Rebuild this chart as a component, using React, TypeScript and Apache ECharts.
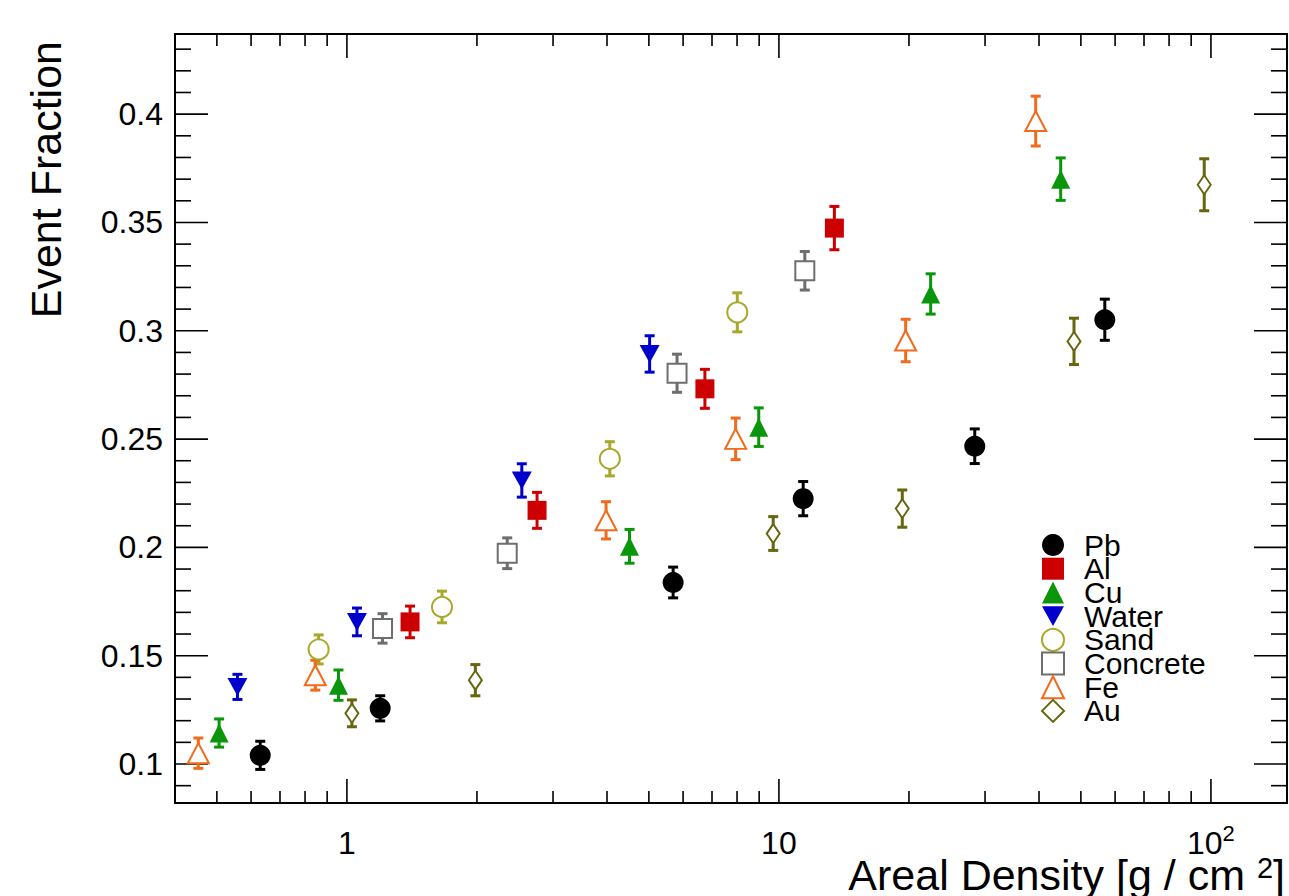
import React, { useEffect, useRef } from 'react';
import * as echarts from 'echarts';

// Areal density [g/cm^2], event fraction, error (half-length)
const pb = [[0.63, 0.104, 0.0065], [1.194, 0.1257, 0.0058], [5.69, 0.1838, 0.0071], [11.38, 0.2225, 0.0079], [28.4, 0.2467, 0.008], [56.8, 0.3051, 0.0095]];
const al = [[1.40, 0.1656, 0.0073], [2.755, 0.2171, 0.0083], [6.74, 0.2732, 0.009], [13.44, 0.3474, 0.010]];
const cu = [[0.506, 0.1143, 0.0065], [0.956, 0.1364, 0.007], [4.51, 0.2005, 0.0078], [8.98, 0.2555, 0.0089], [22.45, 0.317, 0.0093], [44.9, 0.37, 0.0098]];
const water = [[0.558, 0.1356, 0.0058], [1.055, 0.1656, 0.0064], [2.54, 0.2309, 0.0077], [5.02, 0.2893, 0.0084]];
const sand = [[0.86, 0.1529, 0.0067], [1.66, 0.1725, 0.0073], [4.06, 0.2409, 0.0079], [8.01, 0.3085, 0.009]];
const concrete = [[1.209, 0.1626, 0.0068], [2.35, 0.1973, 0.0071], [5.81, 0.2804, 0.0088], [11.48, 0.3277, 0.0089]];
const fe = [[0.453, 0.105, 0.007], [0.845, 0.141, 0.0069], [3.98, 0.2125, 0.0086], [7.94, 0.2501, 0.0096], [19.65, 0.2955, 0.0098], [39.3, 0.3968, 0.0115]];
const au = [[1.027, 0.1234, 0.0062], [1.983, 0.1387, 0.0072], [9.70, 0.2064, 0.0078], [19.3, 0.2179, 0.0086], [48.2, 0.2951, 0.0107], [96.5, 0.3674, 0.012]];

const materialNames = ['Pb', 'Al', 'Cu', 'Water', 'Sand', 'Concrete', 'Fe', 'Au'];
const materialData = [pb, al, cu, water, sand, concrete, fe, au];

// axis ticks
const xMajorTicks = [1, 10, 100];
const xMinorTicks = [0.5, 0.6, 0.7, 0.8, 0.9, 2, 3, 4, 5, 6, 7, 8, 9, 20, 30, 40, 50, 60, 70, 80, 90];
const yMajorTicks = [0.1, 0.15, 0.2, 0.25, 0.3, 0.35, 0.4];
const yMinorTicks = [0.09, 0.11, 0.12, 0.13, 0.14, 0.16, 0.17, 0.18, 0.19, 0.21, 0.22, 0.23, 0.24, 0.26, 0.27, 0.28, 0.29, 0.31, 0.32, 0.33, 0.34, 0.36, 0.37, 0.38, 0.39, 0.41, 0.42, 0.43];

const FONT = '"Liberation Sans", Arial, Helvetica, sans-serif';

const styles: any[] = [
  { color: '#000000', symbol: 'circle', size: 21, filled: true },
  { color: '#cc0000', symbol: 'rect', size: 19, filled: true },
  { color: '#0a960a', symbol: 'triangle', size: [19, 19], filled: true },
  { color: '#0000cc', symbol: 'triangle', size: [20, 18], filled: true, rotate: 180, legendIcon: 'path://M0,0 L20,0 L10,18 Z' },
  { color: '#a8a82a', symbol: 'circle', size: 20, filled: false },
  { color: '#6e6e6e', symbol: 'rect', size: 19, filled: false },
  { color: '#f26a1b', symbol: 'triangle', size: [21, 20], filled: false },
  { color: '#66660f', symbol: 'diamond', size: [13, 19], filled: false },
];

export default function App() {
  const ref = useRef<HTMLDivElement>(null);
  useEffect(() => {
    document.body.style.margin = '0';
    const chart = echarts.init(ref.current!, null, { renderer: 'svg' });

    const tickData = [
      ...xMajorTicks.map((v) => [v, 0.2, 0]),
      ...xMinorTicks.map((v) => [v, 0.2, 1]),
      ...yMajorTicks.map((v) => [1, v, 2]),
      ...yMinorTicks.map((v) => [1, v, 3]),
    ];

    const errSeries = materialData.map((d, i) => ({
      type: 'custom',
      name: materialNames[i] + ' err',
      coordinateSystem: 'cartesian2d',
      silent: true,
      z: 2,
      encode: { x: 0, y: 1 },
      data: d,
      renderItem: (params: any, api: any) => {
        const x = api.value(0), y = api.value(1), e = api.value(2);
        const top = api.coord([x, y + e]);
        const bot = api.coord([x, y - e]);
        const st = { stroke: styles[i].color, lineWidth: 3 };
        return {
          type: 'group',
          children: [
            { type: 'line', shape: { x1: top[0], y1: top[1], x2: bot[0], y2: bot[1] }, style: st },
            { type: 'line', shape: { x1: top[0] - 5, y1: top[1], x2: top[0] + 5, y2: top[1] }, style: st },
            { type: 'line', shape: { x1: bot[0] - 5, y1: bot[1], x2: bot[0] + 5, y2: bot[1] }, style: st },
          ],
        };
      },
    }));

    const scatterSeries = materialData.map((d, i) => {
      const s = styles[i];
      return {
        type: 'scatter',
        name: materialNames[i],
        z: 3,
        symbol: s.symbol,
        symbolSize: s.size,
        symbolRotate: s.rotate || 0,
        data: d.map((p) => [p[0], p[1]]),
        itemStyle: s.filled
          ? { color: s.color, opacity: 1 }
          : { color: '#ffffff', borderColor: s.color, borderWidth: 2, opacity: 1 },
      };
    });

    const tickSeries = {
      type: 'custom',
      name: 'ticks',
      coordinateSystem: 'cartesian2d',
      silent: true,
      z: 1,
      encode: { x: 0, y: 1 },
      data: tickData,
      renderItem: (params: any, api: any) => {
        const cs = params.coordSys;
        const kind = api.value(2);
        const p = api.coord([api.value(0), api.value(1)]);
        const st = { stroke: '#000', lineWidth: 1.6 };
        if (kind < 2) {
          const L = kind === 0 ? 24 : 12;
          const yb = cs.y + cs.height, yt = cs.y;
          return {
            type: 'group',
            children: [
              { type: 'line', shape: { x1: p[0], y1: yb, x2: p[0], y2: yb - L }, style: st },
              { type: 'line', shape: { x1: p[0], y1: yt, x2: p[0], y2: yt + L }, style: st },
            ],
          };
        }
        const L = kind === 2 ? 33 : 16;
        const xl = cs.x, xr = cs.x + cs.width;
        return {
          type: 'group',
          children: [
            { type: 'line', shape: { x1: xl, y1: p[1], x2: xl + L, y2: p[1] }, style: st },
            { type: 'line', shape: { x1: xr, y1: p[1], x2: xr - L, y2: p[1] }, style: st },
          ],
        };
      },
    };

    const legendData = materialNames.map((n, i) =>
      styles[i].legendIcon ? { name: n, icon: styles[i].legendIcon } : { name: n }
    );

    chart.setOption({
      animation: false,
      backgroundColor: '#ffffff',
      grid: {
        left: 175, top: 34, right: 2, bottom: 93,
        show: true, borderColor: '#000', borderWidth: 2, backgroundColor: '#ffffff',
      },
      xAxis: {
        type: 'log',
        logBase: 10,
        min: 0.4,
        max: 150,
        axisLine: { show: false },
        axisTick: { show: false },
        splitLine: { show: false },
        minorTick: { show: false },
        axisLabel: {
          margin: 19,
          color: '#000',
          fontFamily: FONT,
          fontSize: 32,
          showMinLabel: false,
          showMaxLabel: false,
          formatter: (v: number) => {
            const l = Math.log10(v);
            if (Math.abs(l - Math.round(l)) > 1e-6) return '';
            const n = Math.round(l);
            if (n === 0) return '{n|1}';
            if (n === 1) return '{n|10}';
            return '{n|10}{s|' + n + '}';
          },
          rich: {
            n: { fontSize: 32, fontFamily: FONT, color: '#000', lineHeight: 42 },
            s: { fontSize: 22, fontFamily: FONT, color: '#000', verticalAlign: 'top', lineHeight: 20 },
          },
        },
      },
      yAxis: {
        type: 'value',
        min: 0.082,
        max: 0.437,
        splitNumber: 7,
        axisLine: { show: false },
        axisTick: { show: false },
        splitLine: { show: false },
        axisLabel: {
          margin: 12,
          color: '#000',
          fontFamily: FONT,
          fontSize: 32,
          showMinLabel: false,
          showMaxLabel: false,
          formatter: (v: number) => {
            const k = v / 0.05;
            if (Math.abs(k - Math.round(k)) > 1e-6) return '';
            return String(+v.toFixed(2));
          },
        },
      },
      legend: {
        data: legendData,
        orient: 'vertical',
        left: 1036,
        top: 525,
        itemWidth: 22,
        itemHeight: 22,
        itemGap: -6.3,
        selectedMode: false,
        textStyle: { fontFamily: FONT, fontSize: 30, color: '#000', padding: [0, 0, 0, 15] },
      },
      graphic: [
        {
          type: 'text',
          x: 46,
          y: 41,
          rotation: Math.PI / 2,
          style: {
            text: 'Event Fraction',
            fontFamily: FONT,
            fontSize: 43,
            fill: '#000',
            align: 'right',
            verticalAlign: 'middle',
            textAlign: 'right',
            textVerticalAlign: 'middle',
          },
        },
        {
          type: 'text',
          x: 1285,
          y: 853,
          style: {
            text: 'Areal Density [g / cm {s|2}]',
            fontFamily: FONT,
            fontSize: 43,
            fill: '#000',
            align: 'right',
            verticalAlign: 'top',
            textAlign: 'right',
            textVerticalAlign: 'top',
            rich: {
              s: { fontSize: 29, fontFamily: FONT, fill: '#000', verticalAlign: 'top', lineHeight: 27 },
            },
          },
        },
      ],
      series: [tickSeries, ...errSeries, ...scatterSeries],
    });
    return () => chart.dispose();
  }, []);
  return <div ref={ref} style={{ width: 1289, height: 896 }} />;
}
